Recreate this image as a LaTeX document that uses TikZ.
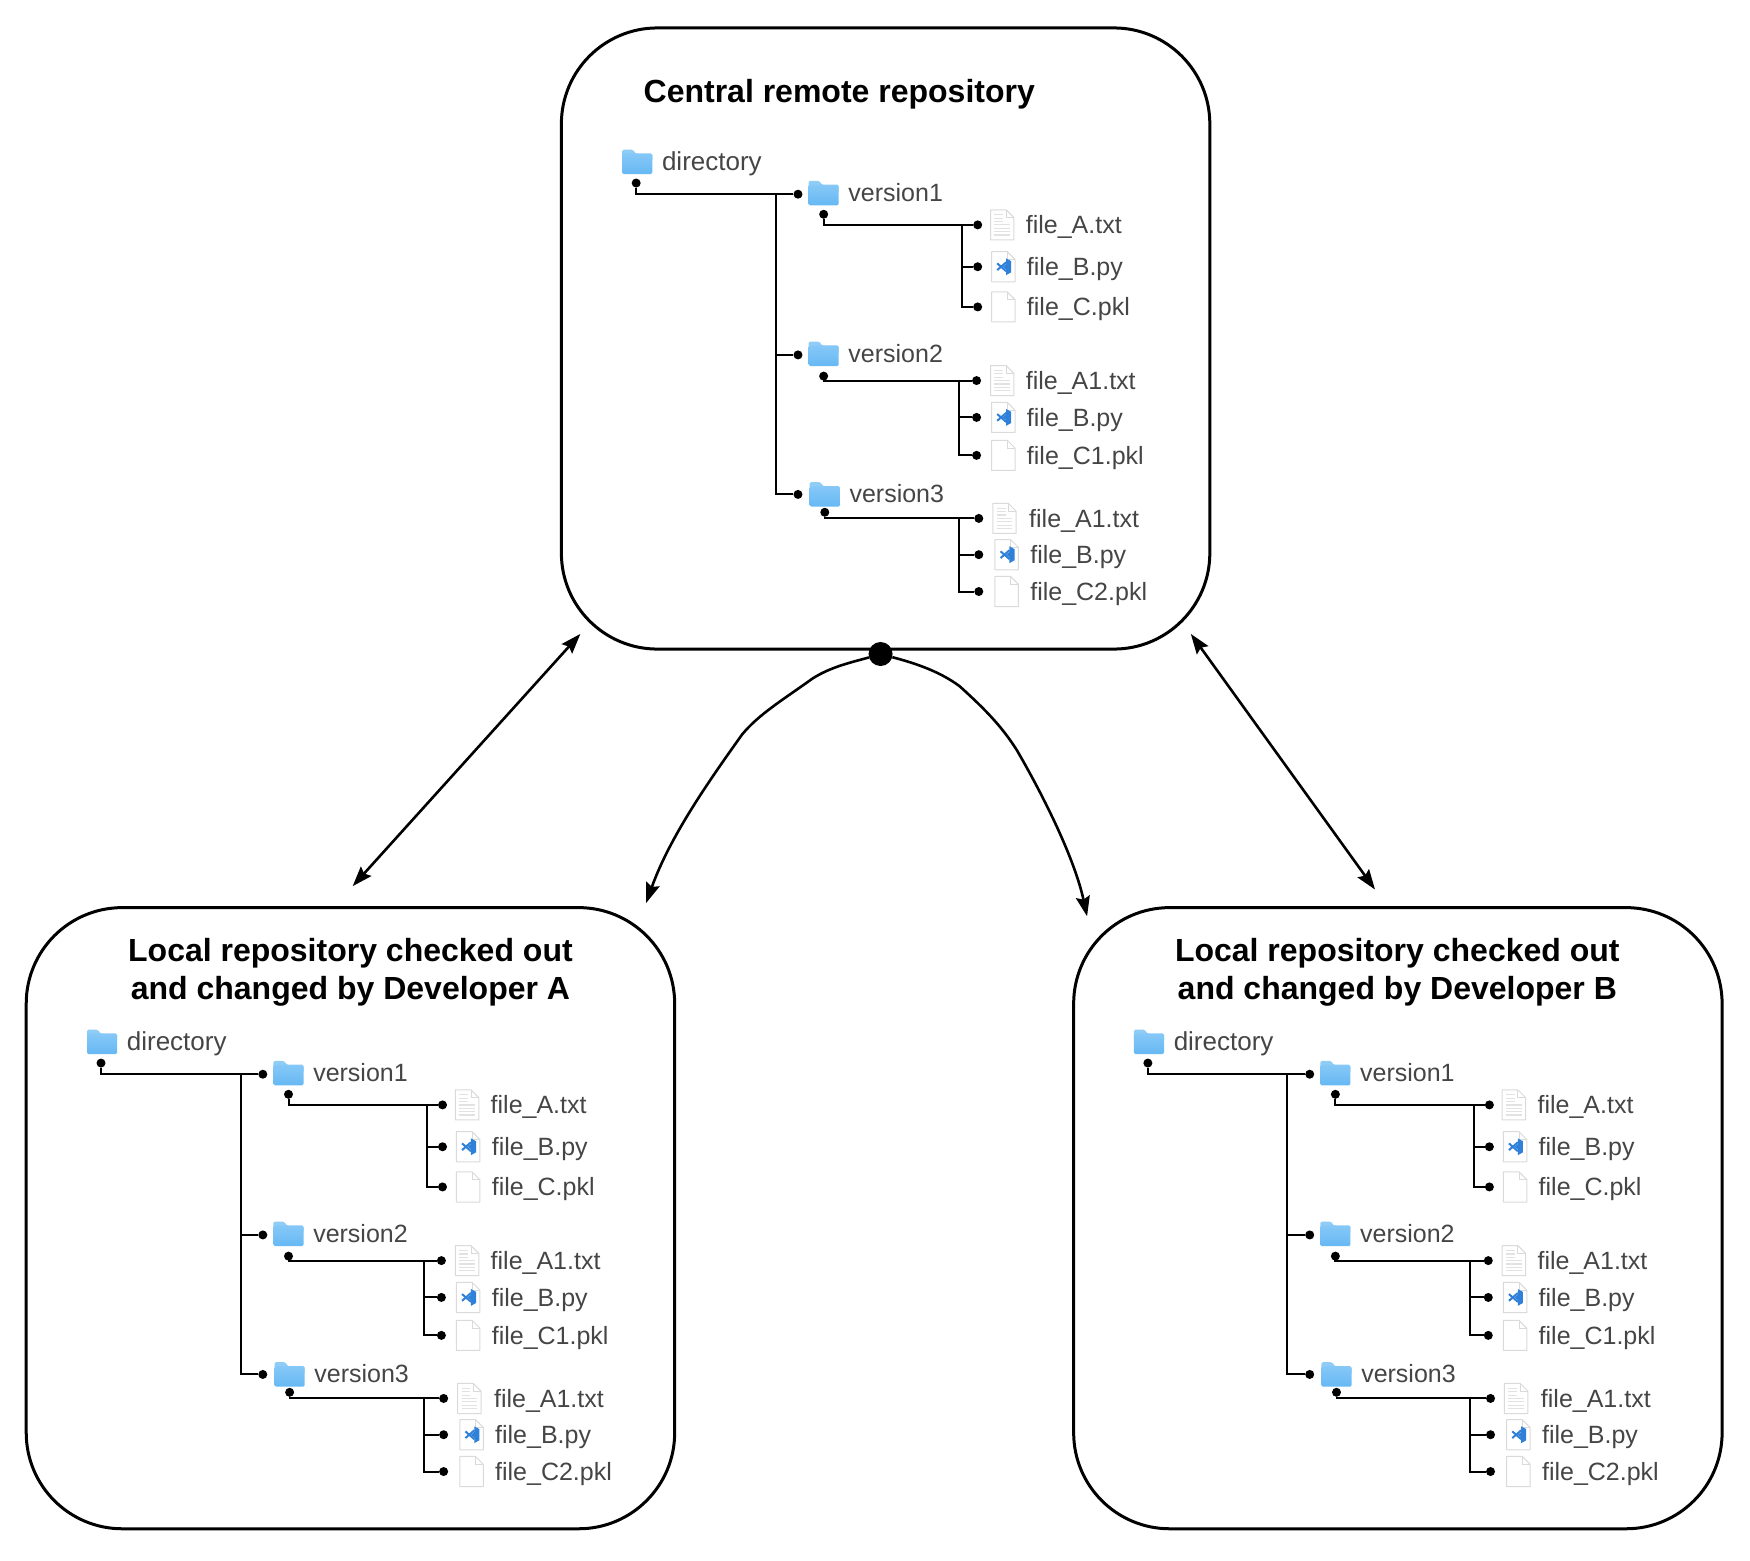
\documentclass[tikz,border=0pt]{standalone}
\usepackage{fontspec}
\setmainfont{Liberation Sans}
\usetikzlibrary{arrows.meta}

\definecolor{treetext}{HTML}{454545}
\definecolor{foldertop}{HTML}{86C8F7}
\definecolor{folderlow}{HTML}{66B8F4}
\definecolor{foldertab}{HTML}{90CDF6}
\definecolor{pageedge}{HTML}{DADADA}
\definecolor{pageline}{HTML}{E2E2E2}
\definecolor{codeblue}{HTML}{2F80D8}

\tikzset{
    repobox/.style={draw,line width=3pt,rounded corners=96pt,minimum width=648.4pt,minimum height=621.1pt},
    repotitle/.style={font=\fontsize{32}{38}\selectfont\bfseries,align=center},
    treedot/.style={circle,fill,inner sep=0pt,minimum size=9pt},
    treeline/.style={line width=2pt},
    rowtext/.style={anchor=base west,inner sep=0pt,text=treetext,font=\fontsize{25}{30}\selectfont},
    hubdot/.style={circle,fill,inner sep=0pt,minimum size=24pt},
    flow/.style={line width=2.6pt,>={Stealth[length=20pt,width=14pt,inset=3pt]}},
}

% Icons
\newcommand{\folderat}[2]{%
  \begin{scope}[shift={(#1,#2)}]
    \fill[foldertab,rounded corners=1.5pt] (-13.5,-11) -- (-4,-11) -- (-1,-7) -- (13.5,-7) -- (13.5,0) -- (-13.5,0) -- cycle;
    \shade[top color=foldertop,bottom color=folderlow,rounded corners=1.5pt] (-13.5,-7.5) rectangle (13.5,11);
  \end{scope}}
\newcommand{\pageat}[2]{%
  \begin{scope}[shift={(#1,#2)}]
    \filldraw[draw=pageedge,fill=white,line width=1pt,line join=round] (-10.5,-13.5) -- (3.5,-13.5) -- (10.5,-6.5) -- (10.5,13.5) -- (-10.5,13.5) -- cycle;
    \draw[pageedge,line width=0.8pt] (3.5,-13.5) -- (3.5,-6.5) -- (10.5,-6.5);
  \end{scope}}
\newcommand{\textpageat}[2]{%
  \pageat{#1}{#2}
  \begin{scope}[shift={(#1,#2)}]
    \foreach \ly in {-9,-6,-3} \draw[pageline,line width=1.2pt] (-7,\ly) -- (1,\ly);
    \foreach \ly in {0,3,6,9} \draw[pageline,line width=1.2pt] (-7,\ly) -- (7,\ly);
  \end{scope}}
\newcommand{\codepageat}[2]{%
  \pageat{#1}{#2}
  \begin{scope}[shift={(#1,#2)}]
    \fill[codeblue] (2.5,-7.5) -- (7,-5) -- (7,5) -- (2.5,7.5) -- (2.5,2.5) -- (-0.5,0) -- (2.5,-2.5) -- cycle;
    \draw[codeblue,line width=2pt] (2.5,-4) -- (-5.5,3);
    \draw[codeblue,line width=2pt] (2.5,4) -- (-5.5,-3);
  \end{scope}}

% One row: name, dot x, y, icon macro, icon x, text x, label
\newcommand{\filerow}[7]{%
  \node[treedot] (#1) at (#2,#3) {};
  #4{#5}{#3}
  \node[rowtext] (#1-label) at (#6,#3+8) {#7};
}

% Tree of one repository
\newcommand{\repotree}{%
  % Directory
  \folderat{571}{145}
  \node[rowtext,font=\fontsize{26}{30}\selectfont] (dir-label) at (593,153) {directory};
  \node[treedot] (dir-dot) at (570,164) {};
  % Versions
  \foreach \v/\fx/\fy/\lx/\dy in {1/738/173/760/174, 2/738/317/760/318, 3/739/443/761/443} {
    \folderat{\fx}{\fy}
    \node[rowtext] (v\v-label) at (\lx,\fy+7.5) {version\v};
    \node[treedot] (v\v-in) at (715,\dy) {};
  }
  \node[treedot] (v1-out) at (738,192) {};
  \node[treedot] (v2-out) at (738,337) {};
  \node[treedot] (v3-out) at (739,459) {};
  \coordinate (dir-junction) at (695,174);
  \draw[treeline] (dir-dot) |- (v1-in);
  \draw[treeline] (dir-junction) |- (v2-in);
  \draw[treeline] (dir-junction) |- (v3-in);
  % Files of version1
  \filerow{a1}{876}{201.5}{\textpageat}{898}{919}{file\_A.txt}
  \filerow{b1}{876}{239}{\codepageat}{899}{920}{file\_B.py}
  \filerow{c1}{876}{275}{\pageat}{899}{920}{file\_C.pkl}
  \coordinate (v1-junction) at (862,201.5);
  \draw[treeline] (v1-out) |- (a1);
  \draw[treeline] (v1-junction) |- (b1);
  \draw[treeline] (v1-junction) |- (c1);
  % Files of version2
  \filerow{a2}{875}{341}{\textpageat}{898}{919}{file\_A1.txt}
  \filerow{b2}{875}{374}{\codepageat}{899}{920}{file\_B.py}
  \filerow{c2}{875}{408}{\pageat}{899}{920}{file\_C1.pkl}
  \coordinate (v2-junction) at (859,341);
  \draw[treeline] (v2-out) |- (a2);
  \draw[treeline] (v2-junction) |- (b2);
  \draw[treeline] (v2-junction) |- (c2);
  % Files of version3
  \filerow{a3}{877}{464.5}{\textpageat}{900}{922}{file\_A1.txt}
  \filerow{b3}{877}{497}{\codepageat}{902}{923}{file\_B.py}
  \filerow{c3}{877}{530}{\pageat}{902}{923}{file\_C2.pkl}
  \coordinate (v3-junction) at (859,464.5);
  \draw[treeline] (v3-out) |- (a3);
  \draw[treeline] (v3-junction) |- (b3);
  \draw[treeline] (v3-junction) |- (c3);
}

\begin{document}
\begin{tikzpicture}[x=1.116pt,y=-1.116pt]
\useasboundingbox (0,0) rectangle (1568,1397.8);

% Central repository
\node[repobox] (central) at (793.5,303.3) {};
\node[repotitle] (central-title) at (752,84) {Central remote repository};
\begin{scope}[name prefix=central-]
  \repotree
\end{scope}

% Developer A
\node[repobox] (deva) at (314,1091.5) {};
\node[repotitle] (deva-title) at (314,871) {Local repository checked out\\and changed by Developer A};
\begin{scope}[shift={(-479.5,788.5)},name prefix=deva-]
  \repotree
\end{scope}

% Developer B
\node[repobox] (devb) at (1252.5,1091.5) {};
\node[repotitle] (devb-title) at (1252,871) {Local repository checked out\\and changed by Developer B};
\begin{scope}[shift={(458.5,788.5)},name prefix=devb-]
  \repotree
\end{scope}

% Arrows
\coordinate (sync-a-top) at (520,568);
\coordinate (sync-a-low) at (316,794);
\coordinate (sync-b-top) at (1067,568);
\coordinate (sync-b-low) at (1232,797);
\coordinate (clone-a) at (579,809);
\coordinate (clone-b) at (974,821);
\node[hubdot] (hub) at (789,586) {};
\draw[flow,<->] (sync-a-low) -- (sync-a-top);
\draw[flow,<->] (sync-b-low) -- (sync-b-top);
\draw[flow,->] (hub) .. controls (765,593) and (745,597) .. (728,608) .. controls (700,628) and (680,640) .. (665,658) .. controls (635,700) and (600,750) .. (clone-a);
\draw[flow,->] (hub) .. controls (815,593) and (840,600) .. (860,615) .. controls (882,635) and (897,650) .. (911,672) .. controls (936,715) and (963,770) .. (clone-b);
\end{tikzpicture}
\end{document}
